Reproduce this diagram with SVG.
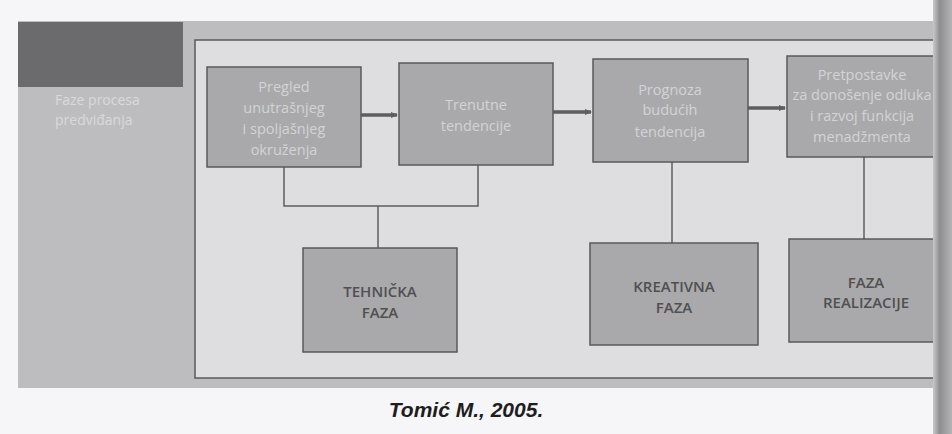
<svg xmlns="http://www.w3.org/2000/svg" width="952" height="434" viewBox="0 0 952 434">
  <defs>
    <marker id="ah" markerWidth="8" markerHeight="8" refX="6" refY="4" orient="auto" markerUnits="userSpaceOnUse">
      <path d="M0,1 L7,4 L0,7 Z" fill="#5e5e60"/>
    </marker>
    <linearGradient id="gutter" x1="0" y1="0" x2="1" y2="0">
      <stop offset="0" stop-color="#c9c9cb"/>
      <stop offset="0.35" stop-color="#8e8e90"/>
      <stop offset="1" stop-color="#b4b4b6"/>
    </linearGradient>
  </defs>
  <style>
    .box { fill: #a9a9ab; stroke: #5a5a5c; stroke-width: 1.5; }
    .top { font-family: "Open Sans", "Noto Sans", sans-serif; font-size: 14.5px; fill: #d3d3d5; text-anchor: middle; }
    .bot { font-family: "Open Sans", "Noto Sans", sans-serif; font-size: 15px; font-weight: 600; fill: #505052; text-anchor: middle; }
    .side { font-family: "Open Sans", "Noto Sans", sans-serif; font-size: 14px; fill: #d9d9db; }
    .con { fill: none; stroke: #5e5e60; stroke-width: 1.5; }
    .arr { fill: none; stroke: #5e5e60; stroke-width: 3.5; }
    .cap { font-family: "Liberation Sans", Arial, sans-serif; font-size: 21px; font-weight: bold; font-style: italic; fill: #1e1e20; text-anchor: middle; }
  </style>

  <rect x="0" y="0" width="952" height="434" fill="#f6f6f8"/>

  <g id="background">
    <rect x="18" y="21" width="934" height="367" fill="#bdbdc0"/>
    <rect x="18" y="22" width="165" height="65" fill="#6b6b6d"/>
    <rect x="195" y="40" width="757" height="338" fill="#dedee0" stroke="#5a5a5c" stroke-width="1.5"/>
  </g>

  <g id="side-label">
    <text class="side" x="55" y="105">Faze procesa</text>
    <text class="side" x="55" y="125">predviđanja</text>
  </g>

  <g id="connectors">
    <line class="arr" x1="361" y1="115" x2="397" y2="115" marker-end="url(#ah)"/>
    <line class="arr" x1="553" y1="112" x2="591" y2="112" marker-end="url(#ah)"/>
    <line class="arr" x1="748" y1="108" x2="785" y2="108" marker-end="url(#ah)"/>
    <polyline class="con" points="284,167 284,206 478,206 478,165"/>
    <line class="con" x1="378" y1="206" x2="378" y2="248"/>
    <line class="con" x1="672" y1="162" x2="672" y2="243"/>
    <line class="con" x1="864" y1="157" x2="864" y2="239"/>
  </g>

  <g id="n1">
    <rect class="box" x="207" y="67" width="154" height="100"/>
    <text class="top" x="284" y="92">Pregled</text>
    <text class="top" x="284" y="113">unutrašnjeg</text>
    <text class="top" x="284" y="134">i spoljašnjeg</text>
    <text class="top" x="284" y="155">okruženja</text>
  </g>
  <g id="n2">
    <rect class="box" x="399" y="63" width="154" height="102"/>
    <text class="top" x="476" y="110">Trenutne</text>
    <text class="top" x="476" y="131">tendencije</text>
  </g>
  <g id="n3">
    <rect class="box" x="593" y="59" width="155" height="103"/>
    <text class="top" x="670" y="95">Prognoza</text>
    <text class="top" x="670" y="115">budućih</text>
    <text class="top" x="670" y="137">tendencija</text>
  </g>
  <g id="n4">
    <rect class="box" x="787" y="56" width="165" height="101"/>
    <text class="top" x="862" y="80">Pretpostavke</text>
    <text class="top" x="862" y="100">za donošenje odluka</text>
    <text class="top" x="862" y="121">i razvoj funkcija</text>
    <text class="top" x="862" y="142">menadžmenta</text>
  </g>
  <g id="n5">
    <rect class="box" x="303" y="248" width="154" height="104"/>
    <text class="bot" x="380" y="297">TEHNIČKA</text>
    <text class="bot" x="380" y="318">FAZA</text>
  </g>
  <g id="n6">
    <rect class="box" x="590" y="243" width="168" height="102"/>
    <text class="bot" x="674" y="292">KREATIVNA</text>
    <text class="bot" x="674" y="313">FAZA</text>
  </g>
  <g id="n7">
    <rect class="box" x="789" y="239" width="163" height="103"/>
    <text class="bot" x="866" y="288">FAZA</text>
    <text class="bot" x="866" y="308">REALIZACIJE</text>
  </g>

  <rect x="933" y="0" width="19" height="434" fill="url(#gutter)"/>

  <g id="caption">
    <text class="cap" x="466" y="417">Tomić M., 2005.</text>
  </g>
</svg>
